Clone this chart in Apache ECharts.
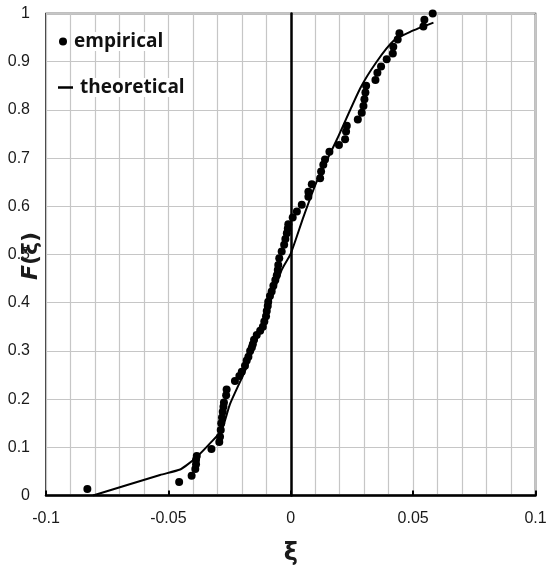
<!DOCTYPE html>
<html>
<head>
<meta charset="utf-8">
<script src="https://cdn.jsdelivr.net/npm/echarts@6/dist/echarts.min.js"></script>
<style>html,body{margin:0;padding:0;background:#fff}#c{width:553px;height:567px}</style>
</head>
<body>
<div id="c"></div>
<script>
// empirical distribution points (xi, F)
var empX = [-0.0831,-0.0456,-0.0405,-0.0390,-0.0387,-0.0387,-0.0384,-0.0324,-0.0292,-0.0289,
  -0.0286,-0.0284,-0.0281,-0.0278,-0.0275,-0.0273,-0.0264,-0.0262,-0.0228,-0.0210,
  -0.0200,-0.0187,-0.0180,-0.0173,-0.0166,-0.0159,-0.0155,-0.0150,-0.0139,-0.0125,
  -0.0114,-0.0108,-0.0101,-0.0098,-0.0094,-0.0092,-0.0085,-0.0078,-0.0071,-0.0063,
  -0.0057,-0.0053,-0.0051,-0.0047,-0.0037,-0.0027,-0.0022,-0.0016,-0.0012,-0.0010,
  0.0008,0.0025,0.0045,0.0072,0.0072,0.0086,0.0120,0.0124,0.0133,0.0140,
  0.0158,0.0197,0.0222,0.0226,0.0229,0.0274,0.0290,0.0297,0.0301,0.0305,
  0.0308,0.0346,0.0354,0.0369,0.0392,0.0417,0.0419,0.0437,0.0444,0.0542,
  0.0546,0.0580];
var empY = [0.0135,0.028,0.041,0.055,0.065,0.074,0.082,0.0965,0.111,0.122,
  0.136,0.150,0.162,0.174,0.184,0.193,0.208,0.220,0.2375,0.248,
  0.257,0.269,0.280,0.288,0.300,0.307,0.314,0.323,0.333,0.342,
  0.350,0.361,0.372,0.383,0.393,0.402,0.414,0.423,0.435,0.447,
  0.457,0.468,0.478,0.492,0.506,0.520,0.532,0.544,0.554,0.563,
  0.577,0.589,0.603,0.620,0.630,0.646,0.658,0.672,0.686,0.697,
  0.713,0.727,0.739,0.755,0.767,0.780,0.794,0.808,0.822,0.836,
  0.850,0.862,0.877,0.890,0.905,0.917,0.931,0.946,0.959,0.973,
  0.987,1.0];
// theoretical curve
var theoX = [-0.0808,-0.0534,-0.0452,-0.0425,-0.0384,-0.0330,-0.0282,-0.0248,-0.0180,-0.0037,
  0.0,0.0052,0.0106,0.0188,0.0284,0.0351,0.0419,0.0488,0.0583];
var theoY = [0.0,0.0425,0.054,0.063,0.080,0.108,0.136,0.19,0.267,0.468,
  0.502,0.578,0.651,0.738,0.845,0.900,0.943,0.962,0.981];
var xTicks = [-0.1,-0.05,0,0.05,0.1];
var yTicks = [0,0.1,0.2,0.3,0.4,0.5,0.6,0.7,0.8,0.9,1];
var seriesNames = ['empirical','theoretical'];
var xTitle = 'ξ';
var yTitleItalic = 'F';
var yTitleRest = '(ξ)';

var emp = empX.map(function(x,i){return [x, empY[i]];});
var theo = theoX.map(function(x,i){return [x, theoY[i]];});

var chart = echarts.init(document.getElementById('c'), null, {renderer:'canvas'});
var txt = '#1a1a1a';
chart.setOption({
  animation:false,
  backgroundColor:'#fff',
  grid:{left:46,right:17.5,top:13.5,bottom:71.5,containLabel:false,outerBoundsMode:'none',
    show:true,borderColor:'#000',borderWidth:1.5,backgroundColor:'transparent'},
  graphic:[{
    type:'text',x:31,y:256,rotation:Math.PI/2,
    style:{text:'{i|'+yTitleItalic+'}'+yTitleRest,align:'center',verticalAlign:'middle',
      fontFamily:'DejaVu Sans',fontWeight:'bold',fontSize:22,fill:txt,
      rich:{i:{fontFamily:'DejaVu Sans',fontStyle:'italic',fontWeight:'bold',fontSize:22,fill:txt}}}
  }],
  legend:[{
    data:[{name:seriesNames[0],icon:'circle'}],
    left:54,top:27,itemWidth:8,itemHeight:8,itemGap:10,
    textStyle:{fontFamily:'Open Sans',fontWeight:'bold',fontSize:19,color:'#111',backgroundColor:'#fff',padding:[0,2]}
  },{
    data:[{name:seriesNames[1],icon:'rect'}],
    left:53,top:73,itemWidth:15,itemHeight:2.5,itemGap:10,
    textStyle:{fontFamily:'Open Sans',fontWeight:'bold',fontSize:19,color:'#111',backgroundColor:'#fff',padding:[0,2]}
  }],
  xAxis:{
    type:'value',min:xTicks[0],max:xTicks[xTicks.length-1],interval:0.05,
    name:xTitle,nameLocation:'middle',nameGap:46,
    nameTextStyle:{fontFamily:'DejaVu Sans',fontWeight:'bold',fontSize:24,color:txt},
    axisLine:{onZero:false,lineStyle:{color:'#000',width:2.5}},
    axisTick:{show:true,inside:true,length:5,lineStyle:{color:'#000',width:2}},
    axisLabel:{margin:15,fontFamily:'Liberation Sans',fontSize:16,color:txt,
      formatter:function(v){return String(Math.round(v*100)/100);}},
    splitLine:{show:true,lineStyle:{color:'#c6c6c6',width:1.2}},
    minorTick:{show:false,splitNumber:5},
    minorSplitLine:{show:true,lineStyle:{color:'#c6c6c6',width:1.2}}
  },
  yAxis:{
    type:'value',min:yTicks[0],max:yTicks[yTicks.length-1],interval:0.1,
    axisLine:{show:true,onZero:true,lineStyle:{color:'#000',width:2.5}},
    axisTick:{show:false},
    axisLabel:{margin:16,fontFamily:'Liberation Sans',fontSize:16,color:txt,
      formatter:function(v){return String(Math.round(v*10)/10);}},
    splitLine:{show:true,lineStyle:{color:'#c6c6c6',width:1.2}}
  },
  series:[{
    name:seriesNames[0],type:'scatter',data:emp,symbol:'circle',symbolSize:8,
    itemStyle:{color:'#000',opacity:1},z:4
  },{
    name:seriesNames[1],type:'line',data:theo,showSymbol:false,smooth:0.2,
    lineStyle:{color:'#000',width:2},itemStyle:{color:'#000'},z:3
  }]
});
</script>
</body>
</html>
